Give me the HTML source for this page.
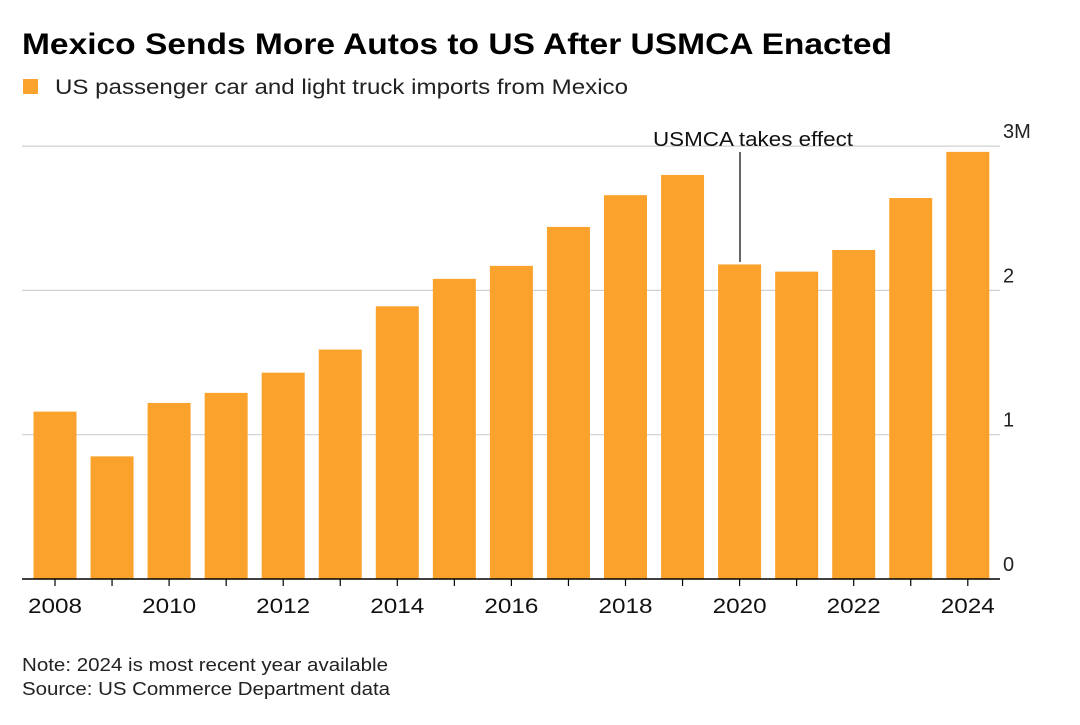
<!DOCTYPE html>
<html><head><meta charset="utf-8"><style>
body{margin:0;background:#fff;font-family:"Liberation Sans",sans-serif;}
</style></head><body>
<svg width="1080" height="720" xmlns="http://www.w3.org/2000/svg">
<text x="22" y="54" font-size="30" font-weight="bold" fill="#000" textLength="870" lengthAdjust="spacingAndGlyphs">Mexico Sends More Autos to US After USMCA Enacted</text>
<rect x="23" y="79" width="15" height="15" fill="#FBA22D"/>
<text x="55" y="94" font-size="21" fill="#222" textLength="573" lengthAdjust="spacingAndGlyphs">US passenger car and light truck imports from Mexico</text>
<g id="grid"></g><g id="bars"></g><g id="axis"></g>
<line x1="740" y1="152" x2="740" y2="262" stroke="#000" stroke-width="1.2"/>
<text x="653" y="146" font-size="20" fill="#111" textLength="200" lengthAdjust="spacingAndGlyphs">USMCA takes effect</text>
<text x="22" y="671" font-size="18" fill="#222" textLength="366" lengthAdjust="spacingAndGlyphs">Note: 2024 is most recent year available</text>
<text x="22" y="695" font-size="18" fill="#222" textLength="368" lengthAdjust="spacingAndGlyphs">Source: US Commerce Department data</text>
</svg>
<script>
const years=[2008,2009,2010,2011,2012,2013,2014,2015,2016,2017,2018,2019,2020,2021,2022,2023,2024];
const values=[1.16,0.85,1.22,1.29,1.43,1.59,1.89,2.08,2.17,2.44,2.66,2.80,2.18,2.13,2.28,2.64,2.96];
const yTicks=[0,1,2,3];
const yTickLabels=["0","1","2","3M"];
const NS="http://www.w3.org/2000/svg";
const y=v=>579-v*144.3;
const x=i=>55+i*57.05;
function mk(t,a,p){const e=document.createElementNS(NS,t);for(const k in a)e.setAttribute(k,a[k]);p.appendChild(e);return e;}
const g=document.getElementById('grid'),b=document.getElementById('bars'),ax=document.getElementById('axis');
yTicks.forEach((v,i)=>{
 if(v>0){const l=mk('line',{x1:22,x2:1000,y1:y(v),y2:y(v),stroke:'#d0d0d0','stroke-width':1.2},g);
 
 }
 const t=mk('text',{x:1003,y:y(v)-8,'font-size':20,fill:'#222'},g);
 t.textContent=yTickLabels[i];
 
 
});
values.forEach((v,i)=>{
 const r=mk('rect',{x:x(i)-21.5,y:y(v),width:43,height:579-y(v),fill:'#FBA22D'},b);
 
 
 const tk=mk('line',{x1:x(i),x2:x(i),y1:579,y2:586,stroke:'#000','stroke-width':1.2},ax);
 
 
 if(i%2===0){const t=mk('text',{x:x(i)-27,y:613,'font-size':21,fill:'#111',textLength:54,lengthAdjust:'spacingAndGlyphs'},ax);
 t.textContent=years[i];
 
 }
});
const base=mk('line',{x1:22,x2:1000,y1:579,y2:579,stroke:'#000','stroke-width':1.5},ax);


</script>
</body></html>
